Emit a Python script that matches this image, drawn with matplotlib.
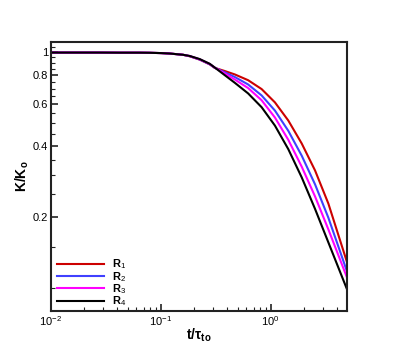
import numpy as np
import matplotlib.pyplot as plt
from matplotlib.ticker import FixedLocator, FixedFormatter, NullFormatter

plt.rcParams['font.family'] = ['Liberation Sans', 'DejaVu Sans']
plt.rcParams['mathtext.fontset'] = 'custom'
plt.rcParams['mathtext.rm'] = 'Liberation Sans'
plt.rcParams['mathtext.it'] = 'Liberation Sans:italic'
plt.rcParams['mathtext.bf'] = 'Liberation Sans:bold'

# trecho comum (as curvas se sobrepoem ate t ~ 0.16)
t_comum = [0.01, 0.0276, 0.042, 0.064, 0.079, 0.101, 0.120, 0.159]
k_comum = [0.995, 0.995, 0.994, 0.994, 0.993, 0.990, 0.986, 0.974]

t_fim = [0.183, 0.226, 0.279, 0.310, 0.38, 0.472, 0.624, 0.828, 1.095,
         1.448, 1.919, 2.539, 3.357, 4.94]

k_r1 = [0.960, 0.929, 0.887, 0.857, 0.832, 0.804, 0.760, 0.697, 0.612,
        0.513, 0.410, 0.315, 0.228, 0.1296]
k_r2 = [0.961, 0.930, 0.888, 0.858, 0.822, 0.784, 0.729, 0.655, 0.565,
        0.464, 0.364, 0.275, 0.1986, 0.1183]
k_r3 = [0.962, 0.932, 0.890, 0.859, 0.813, 0.765, 0.704, 0.625, 0.528,
        0.425, 0.327, 0.2444, 0.1772, 0.1114]
k_r4 = [0.963, 0.934, 0.892, 0.860, 0.800, 0.741, 0.668, 0.584, 0.488,
        0.388, 0.2945, 0.2164, 0.1561, 0.0993]

rotulos = ['R$_1$', 'R$_2$', 'R$_3$', 'R$_4$']
cores = ['#cc0000', '#4040ff', '#ff00ff', '#000000']

fig = plt.figure(figsize=(3.95, 3.51), dpi=100)
ax = fig.add_axes([0.129, 0.114, 0.749, 0.7655])

for k, rot, cor in zip([k_r1, k_r2, k_r3, k_r4], rotulos, cores):
    ax.plot(t_comum + t_fim, k_comum + k, color=cor, lw=1.5, label=rot)

ax.set_xscale('log')
ax.set_yscale('log')
ax.set_xlim(0.01, 4.94)
ax.set_ylim(0.08, 1.1)

ax.xaxis.set_major_locator(FixedLocator([0.01, 0.1, 1]))
ax.xaxis.set_major_formatter(FixedFormatter([r'$\mathregular{10^{-2}}$',
                                             r'$\mathregular{10^{-1}}$',
                                             r'$\mathregular{10^{0}}$']))
minx = [m * d for d in [0.01, 0.1, 1] for m in range(2, 10) if m * d < 4.94]
ax.xaxis.set_minor_locator(FixedLocator(minx))
ax.xaxis.set_minor_formatter(NullFormatter())

ax.yaxis.set_major_locator(FixedLocator([0.2, 0.4, 0.6, 0.8, 1.0]))
ax.yaxis.set_major_formatter(FixedFormatter(['0.2', '0.4', '0.6', '0.8', '1']))
miny = [0.1, 0.15, 0.25, 0.3, 0.35, 0.45, 0.5, 0.55, 0.65, 0.7, 0.75,
        0.85, 0.9, 0.95, 1.05]
ax.yaxis.set_minor_locator(FixedLocator(miny))
ax.yaxis.set_minor_formatter(NullFormatter())

ax.tick_params(which='both', direction='in', labelsize=8, color='#222222', pad=2)
ax.tick_params(which='major', length=5, width=1.2)
ax.tick_params(which='minor', length=3, width=0.8)
for s in ax.spines.values():
    s.set_linewidth(1.5)
    s.set_color('#222222')

ax.set_xlabel(r'$\mathbf{t/\tau_{to}}$', fontsize=10, labelpad=-1)
ax.set_ylabel(r'$\mathbf{K/K_o}$', fontsize=10, labelpad=1)

leg = ax.legend(loc='lower left', frameon=False, fontsize=8,
                handlelength=4.3, handletextpad=0.7, labelspacing=-0.13,
                borderaxespad=0.1, bbox_to_anchor=(0.0, -0.011))
for txt in leg.get_texts():
    txt.set_fontweight('bold')

fig.savefig('out.png', dpi=100)
